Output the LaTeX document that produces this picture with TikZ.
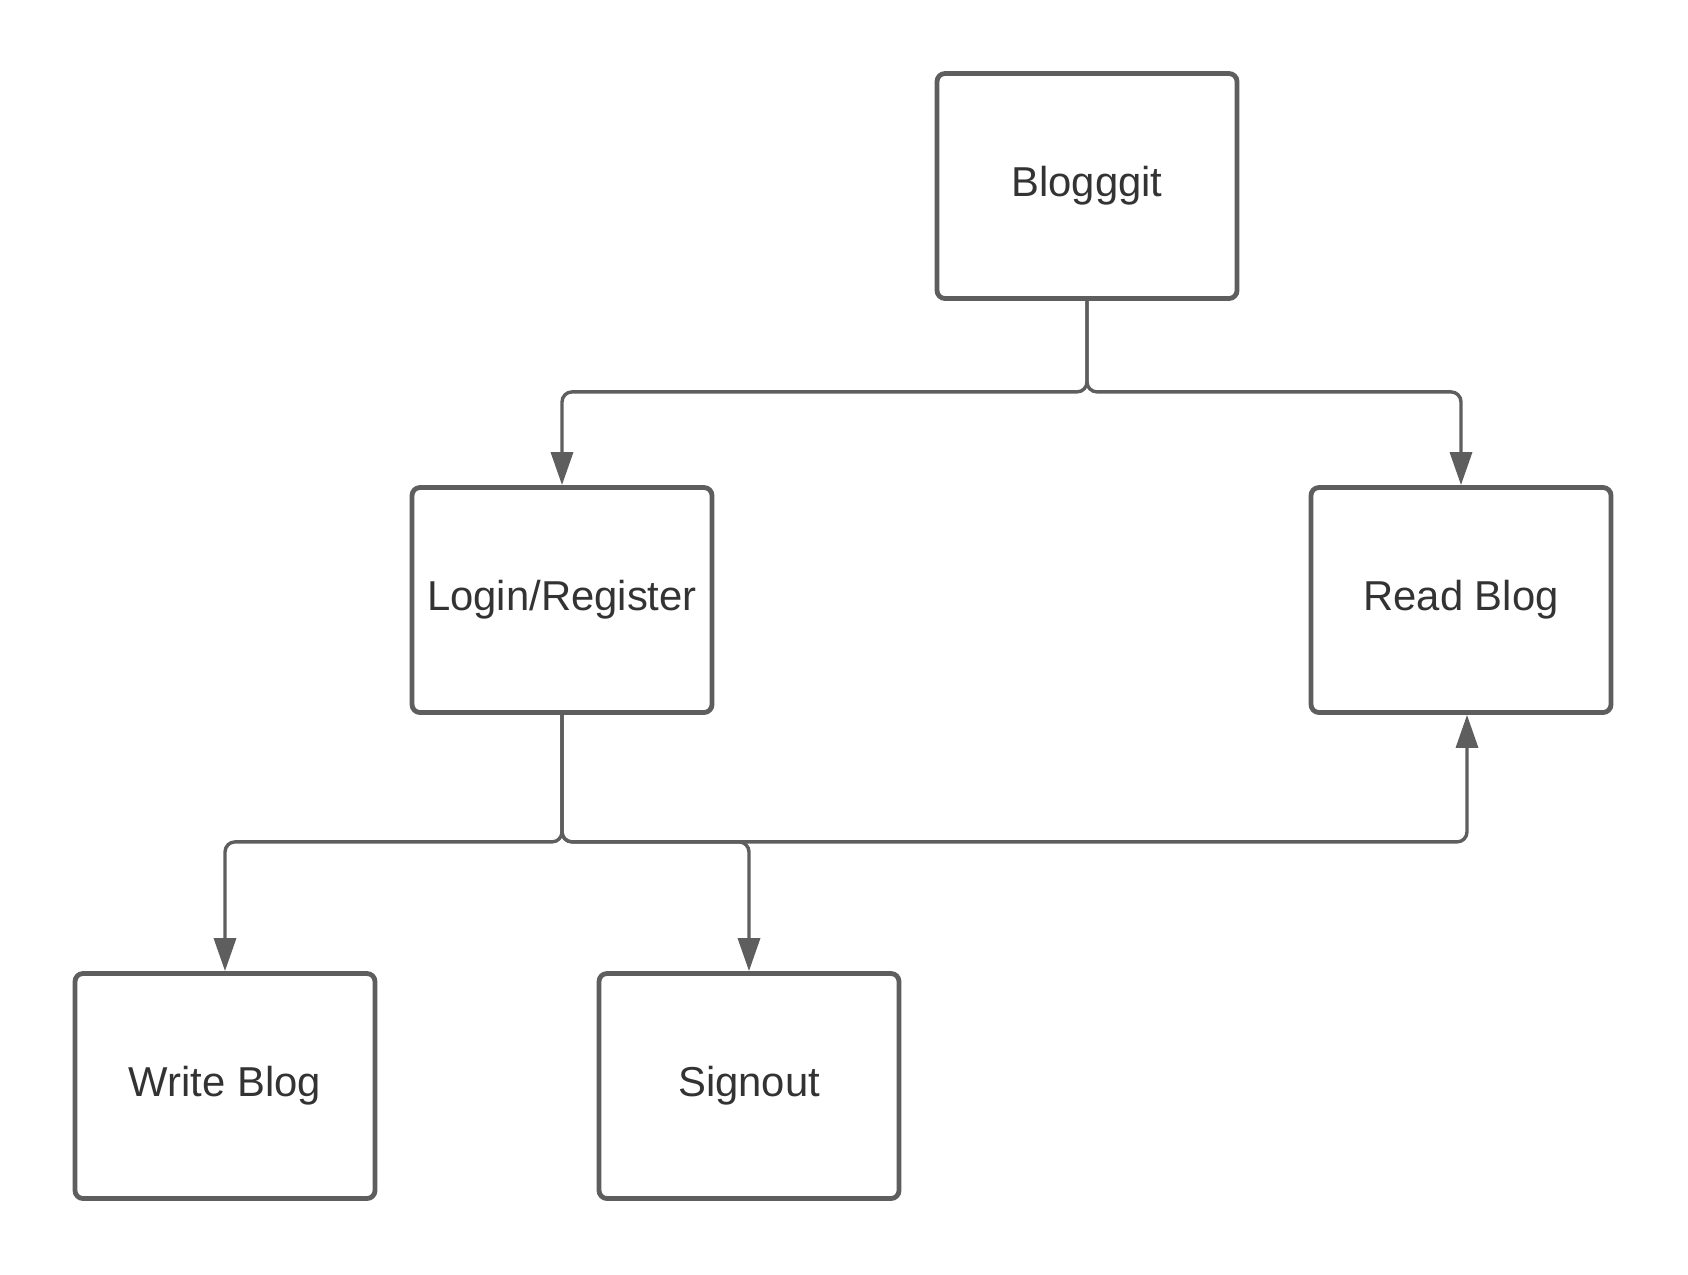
\documentclass[tikz,border=0pt]{standalone}
\usepackage{fontspec}
\setmainfont{Liberation Sans}
\usepackage{xcolor}
\usepackage{tikz}
\usetikzlibrary{arrows.meta,positioning,calc}
\definecolor{boxline}{HTML}{5E5E5E}
\definecolor{boxtext}{HTML}{333333}
\tikzset{>={Triangle[width=11pt,length=16.5pt]}}
\tikzset{
  pagebox/.style={draw=boxline, line width=2.4pt, rounded corners=4pt, fill=white,
    minimum width=150pt, minimum height=112.5pt, inner sep=0pt,
    text=boxtext, font=\fontsize{20.9pt}{25pt}\selectfont},
  link/.style={draw=boxline, line width=1.7pt, rounded corners=5pt}
}

\begin{document}
\begin{tikzpicture}[x=0.5pt, y=-0.5pt]
			\useasboundingbox (0,0) rectangle (1688,1275);
			% pages of the blog
			\node[pagebox] (blog) at (1087,186) {Blogggit};
			\node[pagebox] (login) at (562,600) {Login/Register};
			\node[pagebox] (read) at (1461,600) {Read Blog};
			\node[pagebox] (write) at (225,1086) {Write Blog};
			\node[pagebox] (signout) at (749,1086) {Signout};
			
			% from the home page
			\draw[link, ->] (blog.south) -- ++(0,91) -| (login.north);
			\draw[link, ->] (blog.south) -- ++(0,91) -| (read.north);
			
			% after logging in
			\draw[link, ->] (login.south) -- ++(0,127) -| (write.north);
			\draw[link, ->] (login.south) -- ++(0,127) -| (signout.north);
			\draw[link, ->] (login.south) -- ++(0,127) -| ([xshift=3pt]read.south);
		\end{tikzpicture}
\end{document}
